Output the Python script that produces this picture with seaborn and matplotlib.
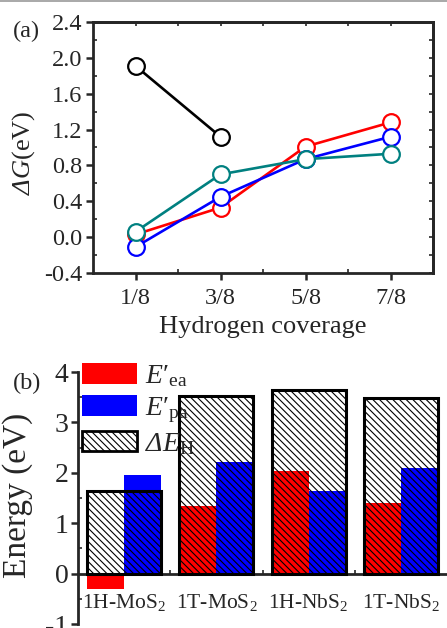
import numpy as np
import pandas as pd
import matplotlib
matplotlib.use("Agg")
import matplotlib.pyplot as plt
import seaborn as sns
from matplotlib.patches import Patch
from matplotlib.lines import Line2D
from matplotlib.ticker import MultipleLocator, FormatStrFormatter, FixedLocator

# ---------------- data ----------------
coverage = [0.125, 0.375, 0.625, 0.875]
coverage_labels = ["1/8", "3/8", "5/8", "7/8"]
black_cov = [0.125, 0.375]
black_dG = [1.91, 1.12]
red_dG = [0.03, 0.33, 1.01, 1.28]
blue_dG = [-0.11, 0.45, 0.87, 1.12]
teal_dG = [0.06, 0.70, 0.87, 0.93]

materials = ["1H-MoS$_2$", "1T-MoS$_2$", "1H-NbS$_2$", "1T-NbS$_2$"]
E_ea = [-0.31, 1.34, 2.04, 1.41]
E_pa = [1.95, 2.21, 1.63, 2.09]
dE_H = [1.64, 3.52, 3.65, 3.48]

# ---------------- style ----------------
sns.set_style("ticks")
plt.rcParams["font.family"] = ["Liberation Serif", "DejaVu Serif"]
plt.rcParams["mathtext.fontset"] = "custom"
plt.rcParams["mathtext.rm"] = "Liberation Serif"
plt.rcParams["mathtext.it"] = "Liberation Serif:italic"
plt.rcParams["mathtext.sf"] = "Liberation Serif:italic"
plt.rcParams["mathtext.bf"] = "Liberation Serif:bold"
plt.rcParams["axes.unicode_minus"] = False
plt.rcParams["hatch.linewidth"] = 0.8
plt.rcParams["hatch.color"] = "black"

fig = plt.figure(figsize=(4.47, 6.28), dpi=100)
W, H = 447, 628

def rect(l, t, r, b):
    return [l / W, 1 - b / H, (r - l) / W, (b - t) / H]

HATCH = "\\" * 5

# ---------------- panel (a) ----------------
ax1 = fig.add_axes(rect(93, 22, 433, 273))
series = [(black_cov, black_dG, "black"),
          (coverage, red_dG, "red"),
          (coverage, blue_dG, "blue"),
          (coverage, teal_dG, "#008080")]
for xs, ys, c in series:
    sns.lineplot(x=xs, y=ys, color=c, lw=1.9, marker="o", markersize=12,
                 markerfacecolor="white", markeredgecolor=c, markeredgewidth=1.6,
                 ax=ax1)
ax1.set_xlim(0, 1)
ax1.set_ylim(-0.4, 2.4)
ax1.xaxis.set_major_locator(FixedLocator(coverage))
ax1.set_xticklabels(coverage_labels)
ax1.xaxis.set_minor_locator(FixedLocator([0.25, 0.5, 0.75]))
ax1.yaxis.set_major_locator(MultipleLocator(0.4))
ax1.yaxis.set_minor_locator(MultipleLocator(0.2))
ax1.yaxis.set_major_formatter(FormatStrFormatter("%.1f"))
for s in ax1.spines.values():
    s.set_linewidth(2.0)
    s.set_visible(True)
ax1.tick_params(which="major", direction="out", length=5, width=1.8, labelsize=17.5, pad=3)
ax1.tick_params(axis="x", which="major", pad=6)
ax1.tick_params(which="minor", direction="in", length=3, width=1.2)
ax1.set_xlabel("Hydrogen coverage", fontsize=19, labelpad=5)
ax1.set_ylabel(r"$\mathsf{\Delta G}$(eV)", fontsize=19)
ax1.yaxis.set_label_coords(-0.165, 0.478)

sec_x = ax1.secondary_xaxis("top")
sec_x.xaxis.set_major_locator(FixedLocator(coverage))
sec_x.xaxis.set_minor_locator(FixedLocator([0.25, 0.5, 0.75]))
sec_x.tick_params(which="both", direction="in", length=3, width=1.2, labeltop=False)
sec_x.spines["top"].set_linewidth(2.0)
sec_y = ax1.secondary_yaxis("right")
sec_y.yaxis.set_major_locator(MultipleLocator(0.4))
sec_y.yaxis.set_minor_locator(MultipleLocator(0.2))
sec_y.tick_params(which="both", direction="in", length=3, width=1.2, labelright=False)
sec_y.spines["right"].set_linewidth(2.0)

# ---------------- panel (b) ----------------
ax2 = fig.add_axes(rect(78, 372, 447, 624))
df = pd.DataFrame({
    "material": materials * 2,
    "kind": ["ea"] * 4 + ["pa"] * 4,
    "value": E_ea + E_pa,
})
sns.barplot(data=df, x="material", y="value", hue="kind", order=materials,
            hue_order=["ea", "pa"], palette=["#ff0000", "#0000ff"], width=0.8,
            gap=0, saturation=1, errorbar=None, legend=False, linewidth=0, ax=ax2)
n_before = len(ax2.patches)
dfH = pd.DataFrame({"material": materials, "value": dE_H})
sns.barplot(data=dfH, x="material", y="value", order=materials, color="white",
            width=0.8, errorbar=None, saturation=1, ax=ax2)
for p in ax2.patches[n_before:]:
    p.set_facecolor("none")
    p.set_edgecolor("black")
    p.set_linewidth(2.2)
    p.set_hatch(HATCH)
    p.set_zorder(3)

ax2.set_xlim(-0.5, 3.5)
ax2.set_ylim(-1, 4)
ax2.set_xlabel("")
ax2.set_ylabel("Energy (eV)", fontsize=24)
ax2.yaxis.set_label_coords(-0.122, 0.512)
ax2.spines["top"].set_visible(False)
ax2.spines["right"].set_visible(False)
ax2.spines["bottom"].set_position(("data", 0))
ax2.spines["bottom"].set_linewidth(2.0)
ax2.spines["left"].set_linewidth(2.0)
ax2.yaxis.set_major_locator(MultipleLocator(1))
ax2.yaxis.set_minor_locator(MultipleLocator(0.5))
ax2.yaxis.set_major_formatter(FormatStrFormatter("%d"))
ax2.tick_params(axis="y", which="major", direction="out", length=5, width=1.8, labelsize=20, pad=2)
ax2.tick_params(axis="y", which="minor", direction="in", length=3, width=1.2)
ax2.xaxis.set_minor_locator(FixedLocator([0.5, 1.5, 2.5]))
ax2.tick_params(axis="x", which="major", length=0, labelsize=15.5, pad=13)
ax2.tick_params(axis="x", which="minor", direction="in", length=3, width=1.2)

handles = [Patch(facecolor="#ff0000", edgecolor="none"),
           Patch(facecolor="#0000ff", edgecolor="none"),
           Patch(facecolor="white", edgecolor="black", hatch=HATCH, linewidth=2.0)]
labels = [r"$\mathsf{E}\prime_{\mathrm{ea}}$", r"$\mathsf{E}\prime_{\mathrm{pa}}$",
          r"$\mathsf{\Delta E}_{\mathrm{H}}$"]
ax2.legend(handles, labels, loc="upper left", bbox_to_anchor=(0.012, 1.035),
           frameon=False, fontsize=20, handlelength=1.95, handleheight=0.75,
           handletextpad=0.3, labelspacing=0.22, borderpad=0, borderaxespad=0)

# panel labels
fig.text(13 / W, 1 - 31 / H, "(a)", fontsize=17.5, va="center", ha="left")
fig.text(13 / W, 1 - 383 / H, "(b)", fontsize=17.5, va="center", ha="left")
fig.add_artist(Line2D([0, 1], [1 - 0.5 / H, 1 - 0.5 / H], color="#9a9a9a", lw=1.2))

fig.savefig("out.png", dpi=100)
